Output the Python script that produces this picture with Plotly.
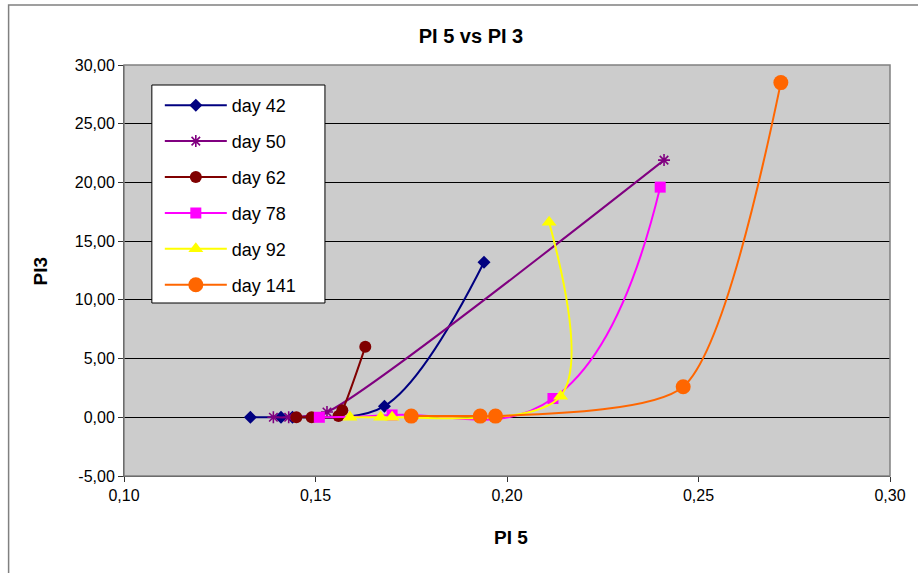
import plotly.graph_objects as go

# ---- data ----
series_names = ["day 42", "day 50", "day 62", "day 78", "day 92", "day 141"]

pi5_day42 = [0.133, 0.141, 0.144, 0.168, 0.194]
pi3_day42 = [0.0, 0.0, 0.0, 0.95, 13.2]

pi5_day50 = [0.139, 0.143, 0.153, 0.241]
pi3_day50 = [0.0, 0.0, 0.45, 21.9]

pi5_day62 = [0.145, 0.149, 0.156, 0.157, 0.163]
pi3_day62 = [0.0, 0.0, 0.1, 0.6, 6.0]

pi5_day78 = [0.151, 0.170, 0.212, 0.240]
pi3_day78 = [0.0, 0.2, 1.6, 19.6]

pi5_day92 = [0.159, 0.167, 0.170, 0.214, 0.211]
pi3_day92 = [0.0, 0.0, 0.0, 1.8, 16.6]

pi5_day141 = [0.175, 0.193, 0.197, 0.246, 0.2715]
pi3_day141 = [0.1, 0.1, 0.1, 2.6, 28.5]

x_tick_vals = [0.10, 0.15, 0.20, 0.25, 0.30]
x_tick_text = ["0,10", "0,15", "0,20", "0,25", "0,30"]
y_tick_vals = [-5, 0, 5, 10, 15, 20, 25, 30]
y_tick_text = ["-5,00", "0,00", "5,00", "10,00", "15,00", "20,00", "25,00", "30,00"]

xs = [pi5_day42, pi5_day50, pi5_day62, pi5_day78, pi5_day92, pi5_day141]
ys = [pi3_day42, pi3_day50, pi3_day62, pi3_day78, pi3_day92, pi3_day141]

# ---- styles ----
colors = ["#000080", "#800080", "#800000", "#FF00FF", "#FFFF00", "#FF6600"]
symbols = ["diamond", "asterisk-open", "circle", "square", "triangle-up", "circle"]
sizes = [10, 10, 12, 11, 13, 15]
smooth = [1.0, 0.6, 1.0, 1.3, 1.0, 0.7]

FONT = "Liberation Sans, Arial, sans-serif"

fig = go.Figure()
for name, x, y, c, s, sz, sm in zip(series_names, xs, ys, colors, symbols, sizes, smooth):
    marker = dict(color=c, symbol=s, size=sz, line=dict(width=0, color=c))
    if s.startswith("asterisk"):
        marker["line"] = dict(width=1.6, color=c)
    fig.add_trace(go.Scatter(
        x=x, y=y, name=name, mode="lines+markers",
        line=dict(color=c, width=2, shape="spline", smoothing=sm),
        marker=marker, legendgroup=name,
    ))

L, R, T, B = 124, 894, 65, 476
W, H = 918, 573

def px_x(p):
    return (p - L) / (R - L)

def px_y(p):
    return (B - p) / (B - T)

fig.update_layout(
    width=W, height=H, autosize=False,
    margin=dict(l=L, r=W - R, t=T, b=H - B, pad=0),
    paper_bgcolor="white", plot_bgcolor="#CCCCCC",
    separators=",.",
    font=dict(family=FONT, size=16, color="black"),
    title=dict(text="<b>PI 5 vs PI 3</b>", x=471 / W, xref="container", xanchor="center",
               y=1 - 36 / H, yref="container", yanchor="middle",
               font=dict(family=FONT, size=20, color="black")),
    showlegend=True,
    legend=dict(x=px_x(160), y=px_y(87), xanchor="left", yanchor="top",
                bgcolor="rgba(0,0,0,0)", borderwidth=0,
                font=dict(family=FONT, size=18, color="black"),
                tracegroupgap=9.5, itemwidth=62, traceorder="grouped"),
    xaxis=dict(range=[0.10, 0.30], tickvals=x_tick_vals, ticktext=x_tick_text,
               showgrid=False, zeroline=False, showline=True, linecolor="#333333", linewidth=1,
               ticks="outside", ticklen=5, tickcolor="#333333", mirror=False,
               tickfont=dict(family=FONT, size=16, color="black")),
    yaxis=dict(range=[-5, 30], tickvals=y_tick_vals, ticktext=y_tick_text,
               showgrid=True, gridcolor="black", gridwidth=1, zeroline=False,
               showline=True, linecolor="#333333", linewidth=1,
               ticks="outside", ticklen=5, tickcolor="#333333",
               tickfont=dict(family=FONT, size=16, color="black")),
    annotations=[
        dict(text="<b>PI 5</b>", xref="paper", yref="paper", x=px_x(513), y=px_y(537),
             showarrow=False, xanchor="center", yanchor="middle",
             font=dict(family=FONT, size=19, color="black")),
        dict(text="<b>PI3</b>", xref="paper", yref="paper", x=px_x(40), y=px_y(271),
             showarrow=False, xanchor="center", yanchor="middle", textangle=-90,
             font=dict(family=FONT, size=19, color="black")),
    ],
    shapes=[
        # plot area border (top/right gray)
        dict(type="rect", xref="paper", yref="paper", x0=0, y0=0, x1=1, y1=1,
             line=dict(color="#808080", width=1.5), layer="above"),
        # chart area border
        dict(type="rect", xref="paper", yref="paper", x0=px_x(8), y0=px_y(5),
             x1=px_x(930), y1=px_y(585), line=dict(color="#808080", width=1.5)),
        # legend box
        dict(type="rect", xref="paper", yref="paper", x0=px_x(152), y0=px_y(85),
             x1=px_x(326), y1=px_y(303), fillcolor="white",
             line=dict(color="black", width=1), layer="above"),
    ],
)

fig.write_html("out.html")
